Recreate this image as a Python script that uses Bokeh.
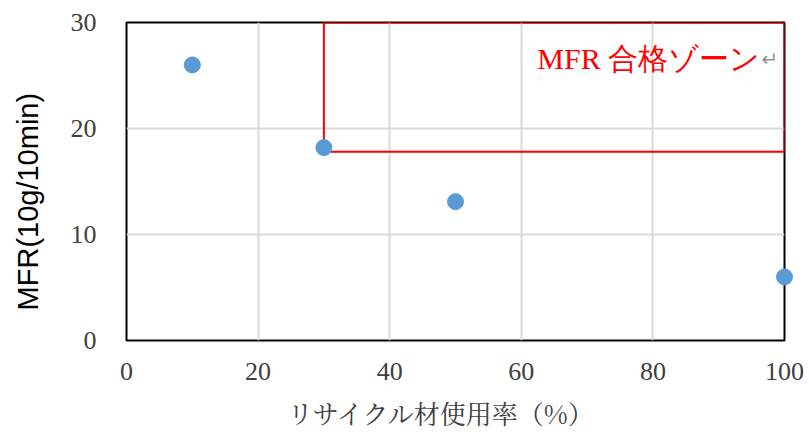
import math
from bokeh.plotting import figure
from bokeh.models import FixedTicker, Range1d
from bokeh.core.properties import value
from bokeh.embed import file_html
from bokeh.resources import INLINE

recycle_rate = [10, 30, 50, 100]
mfr = [26, 18.2, 13.1, 6]
x_ticks = [0, 20, 40, 60, 80, 100]
y_ticks = [0, 10, 20, 30]
zone_x = [30, 100]
zone_y = [17.8, 30]
zone_label = "MFR 合格ゾーン"
x_title = "リサイクル材使用率（%）"
y_title = "MFR(10g/10min)"

p = figure(width=809, height=432, output_backend="svg", toolbar_location=None,
           x_range=Range1d(0, 100), y_range=Range1d(0, 30),
           min_border_left=126, min_border_right=25, min_border_top=22, min_border_bottom=92)

p.outline_line_color = "black"
p.outline_line_width = 2
p.background_fill_color = "white"

for ax in (p.xaxis, p.yaxis):
    ax.axis_line_color = None
    ax.major_tick_line_color = None
    ax.minor_tick_line_color = None
    ax.major_label_text_font = "Liberation Serif"
    ax.major_label_text_font_size = "26px"
    ax.major_label_text_color = "#404040"

p.xaxis.ticker = FixedTicker(ticks=x_ticks)
p.yaxis.ticker = FixedTicker(ticks=y_ticks)
p.xaxis.major_label_standoff = 16
p.yaxis.major_label_standoff = 24

p.xgrid.grid_line_color = "#d9d9d9"
p.ygrid.grid_line_color = "#d9d9d9"
p.xgrid.grid_line_width = 2
p.ygrid.grid_line_width = 2

p.text(x=[48.0], y=[-6.8], text=[x_title], text_align="center", text_baseline="middle",
       text_font=value("Noto Serif CJK JP, Noto Sans CJK JP"), text_font_size="26px",
       text_color="#404040", level="overlay")
p.text(x=[-14.9], y=[13.1], text=[y_title], angle=math.pi / 2,
       text_align="center", text_baseline="middle",
       text_font=value("Liberation Sans"), text_font_size="29px", text_color="#000000",
       level="overlay")

p.quad(left=[zone_x[0]], right=[zone_x[1]], bottom=[zone_y[0]], top=[zone_y[1]],
       fill_color=None, line_color="#ff0000", line_width=2)

p.scatter(recycle_rate, mfr, size=16, color="#5B9BD5", line_color="#5B9BD5", level="overlay")

p.text(x=[96.3], y=[26.6], text=[zone_label], text_color="#ff0000",
       text_font=value("Liberation Serif"), text_font_size="30px",
       text_align="right", text_baseline="middle")
p.text(x=[96.5], y=[26.6], text=["↵"], text_color="#909090",
       text_font=value("DejaVu Sans"), text_font_size="20px",
       text_align="left", text_baseline="middle")

open("out.html", "w").write(file_html(p, INLINE))
